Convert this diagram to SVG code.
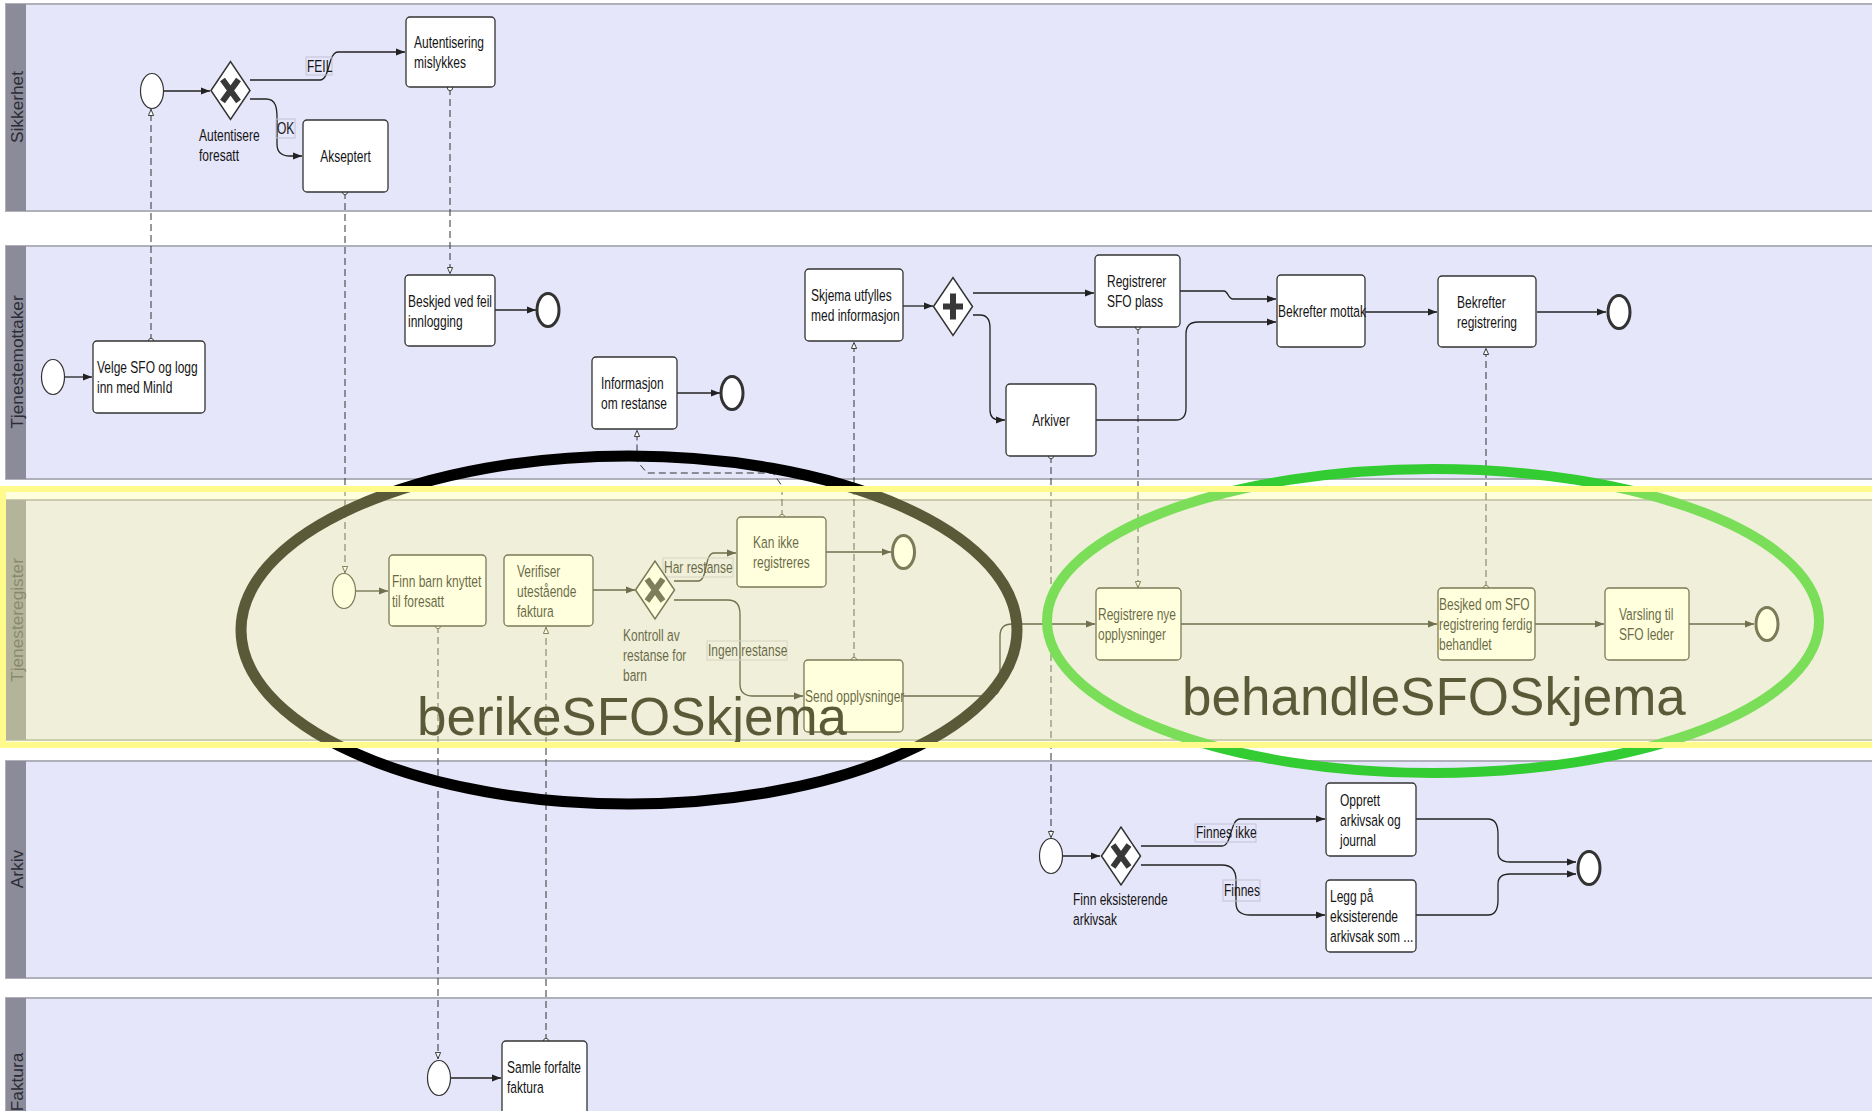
<svg xmlns="http://www.w3.org/2000/svg" width="1872" height="1111" viewBox="0 0 1872 1111">
<style>
.lane{fill:#e6e6fa;stroke:#b0b0ba;stroke-width:2}
.strip{fill:#8b8b99}
.ll{font-family:"Liberation Sans",Arial,sans-serif;font-size:16px;fill:#2c2c36;text-anchor:middle}
.box{fill:#fff;stroke:#333;stroke-width:1.3}
.t{font-family:"Liberation Sans",Arial,sans-serif;font-size:12px;fill:#151515}
.c{text-anchor:middle}
.ev{fill:#fff;stroke:#333;stroke-width:1.2}
.end{fill:#fff;stroke:#333;stroke-width:3}
.seq{fill:none;stroke:#222;stroke-width:1.3;marker-end:url(#ah)}
.msg{fill:none;stroke:#333;stroke-width:1;stroke-dasharray:7 4;marker-start:url(#dot);marker-end:url(#ma)}
.lbl{fill:none;stroke:#c2c2d2;stroke-width:1}
.gw{fill:#fff;stroke:#333;stroke-width:1.5}
.xm{fill:none;stroke:#383838;stroke-width:6}
.big{font-family:"Liberation Sans",Arial,sans-serif;font-size:53px;fill:#000}
</style>
<defs>
<marker id="ah" viewBox="0 0 10 8" refX="10" refY="4" markerWidth="9" markerHeight="8" markerUnits="userSpaceOnUse" orient="auto"><path d="M0,0 L10,4 L0,8 z" fill="#222"/></marker>
<marker id="ma" viewBox="0 0 8 7" refX="8" refY="3.5" markerWidth="7" markerHeight="7" markerUnits="userSpaceOnUse" orient="auto"><path d="M0.5,0.5 L7.5,3.5 L0.5,6.5 z" fill="#fff" stroke="#222" stroke-width="1"/></marker>
<marker id="dot" viewBox="0 0 8 8" refX="4" refY="4" markerWidth="7" markerHeight="7" markerUnits="userSpaceOnUse"><circle cx="4" cy="4" r="3" fill="#fff" stroke="#333" stroke-width="1"/></marker>
<g id="gwx"><polygon class="gw" points="-19.5,0 0,-29 19.5,0 0,29"/><path class="xm" d="M-8,-11 L8,11 M8,-11 L-8,11"/></g>
<g id="gwp"><polygon class="gw" points="-19.5,0 0,-29 19.5,0 0,29"/><path class="xm" d="M0,-13 V13 M-10,0 H10"/></g>
</defs>

<rect width="1872" height="1111" fill="#fff"/>

<!-- swimlanes -->
<g id="lanes">
  <g id="lane-sikkerhet"><rect class="lane" x="6" y="4" width="1872" height="207"/><rect class="strip" x="6" y="4" width="20" height="207"/>
    <text class="ll" transform="translate(23 107) rotate(-90) scale(1.08 1)">Sikkerhet</text></g>
  <g id="lane-tjenestemottaker"><rect class="lane" x="6" y="246" width="1872" height="233"/><rect class="strip" x="6" y="246" width="20" height="233"/>
    <text class="ll" transform="translate(23 362) rotate(-90) scale(1.08 1)">Tjenestemottaker</text></g>
  <g id="lane-tjenesteregister"><rect class="lane" x="6" y="500" width="1872" height="240"/><rect class="strip" x="6" y="500" width="20" height="240"/>
    <text class="ll" transform="translate(23 620) rotate(-90) scale(1.08 1)" style="fill:#4a4a52">Tjenesteregister</text></g>
  <g id="lane-arkiv"><rect class="lane" x="6" y="761" width="1872" height="217"/><rect class="strip" x="6" y="761" width="20" height="217"/>
    <text class="ll" transform="translate(23 869) rotate(-90) scale(1.08 1)">Arkiv</text></g>
  <g id="lane-faktura"><rect class="lane" x="6" y="998" width="1872" height="140"/><rect class="strip" x="6" y="998" width="20" height="140"/>
    <text class="ll" transform="translate(23 1082) rotate(-90) scale(1.08 1)">Faktura</text></g>
</g>

<!-- connectors: sequence flows and message flows -->
<g id="connectors">
  <path class="seq" d="M164,91 H210"/>
  <path class="seq" d="M250,80 H320 C330,80 328,52 338,52 H405"/>
  <path class="seq" d="M250,99 H266 C276,99 277,108 277,118 V144 C277,152 282,156 290,156 H302"/>
  <path class="seq" d="M65,377 H92"/>
  <path class="seq" d="M495,310 H536"/>
  <path class="seq" d="M677,393 H720"/>
  <path class="seq" d="M903,306 H933"/>
  <path class="seq" d="M973,293 H1094"/>
  <path class="seq" d="M973,315 H980 C987,315 990,320 990,328 V410 C990,417 994,420 1000,420 H1005"/>
  <path class="seq" d="M1180,291 H1224 C1228,291 1228,299 1233,299 H1276"/>
  <path class="seq" d="M1096,420 H1176 C1183,420 1186,416 1186,408 V334 C1186,326 1190,322 1198,322 H1276"/>
  <path class="seq" d="M1365,312 H1437"/>
  <path class="seq" d="M1537,312 H1606"/>
  <path class="seq" d="M356,591 H388"/>
  <path class="seq" d="M593,590 H635"/>
  <path class="seq" d="M674,581 H698 C708,581 704,553 714,553 H736"/>
  <path class="seq" d="M674,600 H728 C737,600 740,606 740,614 V684 C740,692 745,696 753,696 H803"/>
  <path class="seq" d="M826,552 H891"/>
  <path class="seq" d="M903,696 H990 C997,696 1000,692 1000,684 V636 C1000,628 1004,624 1012,624 H1095"/>
  <path class="seq" d="M1181,624 H1437"/>
  <path class="seq" d="M1535,624 H1604"/>
  <path class="seq" d="M1689,624 H1754"/>
  <path class="seq" d="M1063,856 H1100"/>
  <path class="seq" d="M1141,846 H1222 C1232,846 1230,819 1240,819 H1325"/>
  <path class="seq" d="M1141,865 H1222 C1231,865 1236,870 1236,880 V903 C1236,911 1241,915 1250,915 H1325"/>
  <path class="seq" d="M1416,819 H1488 C1496,819 1498,826 1498,834 V852 C1498,859 1502,862 1510,862 H1576"/>
  <path class="seq" d="M1416,915 H1488 C1496,915 1498,908 1498,900 V884 C1498,877 1502,874 1510,874 H1576"/>
  <path class="seq" d="M451,1078 H501"/>

  <path class="msg" d="M151,341 V109"/>
  <path class="msg" d="M345,192 V573"/>
  <path class="msg" d="M450,88 V274"/>
  <path class="msg" d="M782,517 V486 L773,473 H647 L637,461 V430"/>
  <path class="msg" d="M854,660 V342"/>
  <path class="msg" d="M1138,327 V588"/>
  <path class="msg" d="M1486,588 V348"/>
  <path class="msg" d="M438,626 V1059"/>
  <path class="msg" d="M546,1041 V627"/>
  <path class="msg" d="M1051,456 V838"/>

  <g id="flow-labels">
    <rect class="lbl" x="306" y="57" width="26" height="18"/><text class="t" transform="translate(307 72) scale(1 1.45)">FEIL</text>
    <rect class="lbl" x="276" y="119" width="19" height="19"/><text class="t" transform="translate(277 134) scale(1 1.45)">OK</text>
    <rect class="lbl" x="663" y="558" width="70" height="19"/><text class="t" transform="translate(664 573) scale(1 1.45)">Har restanse</text>
    <rect class="lbl" x="707" y="641" width="80" height="19"/><text class="t" transform="translate(708 656) scale(1 1.45)">Ingen restanse</text>
    <rect class="lbl" x="1195" y="824" width="61" height="18"/><text class="t" transform="translate(1196 838) scale(1 1.45)">Finnes ikke</text>
    <rect class="lbl" x="1223" y="880" width="37" height="21"/><text class="t" transform="translate(1224 896) scale(1 1.45)">Finnes</text>
  </g>
</g>

<!-- Sikkerhet -->
<g id="start-sikkerhet"><ellipse class="ev" cx="152" cy="91" rx="11.5" ry="17.5"/></g>
<g id="gw-autentisere"><use href="#gwx" x="230.5" y="90.5"/>
  <text class="t" transform="translate(199 141) scale(1 1.45)"><tspan x="0">Autentisere</tspan><tspan x="0" dy="13.8">foresatt</tspan></text></g>
<g id="task-autentisering-mislykkes"><rect class="box" x="406" y="17" width="89" height="70" rx="4"/>
  <text class="t" transform="translate(414 48) scale(1 1.45)"><tspan x="0">Autentisering</tspan><tspan x="0" dy="13.8">mislykkes</tspan></text></g>
<g id="task-akseptert"><rect class="box" x="303" y="120" width="85" height="72" rx="4"/>
  <text class="t c" transform="translate(345.5 162) scale(1 1.45)">Akseptert</text></g>

<!-- Tjenestemottaker -->
<g id="start-tjenestemottaker"><ellipse class="ev" cx="53" cy="377" rx="11.5" ry="17.5"/></g>
<g id="task-velge-sfo"><rect class="box" x="93" y="341" width="112" height="72" rx="4"/>
  <text class="t" transform="translate(97 373) scale(1 1.45)"><tspan x="0">Velge SFO og logg</tspan><tspan x="0" dy="13.8">inn med MinId</tspan></text></g>
<g id="task-beskjed-feil"><rect class="box" x="405" y="275" width="90" height="71" rx="4"/>
  <text class="t" transform="translate(408 307) scale(1 1.45)"><tspan x="0">Beskjed ved feil</tspan><tspan x="0" dy="13.8">innlogging</tspan></text></g>
<g id="end-beskjed"><ellipse class="end" cx="548" cy="310" rx="11" ry="16.5"/></g>
<g id="task-informasjon-restanse"><rect class="box" x="592" y="357" width="85" height="72" rx="4"/>
  <text class="t" transform="translate(601 389) scale(1 1.45)"><tspan x="0">Informasjon</tspan><tspan x="0" dy="13.8">om restanse</tspan></text></g>
<g id="end-informasjon"><ellipse class="end" cx="732" cy="393" rx="11" ry="16.5"/></g>
<g id="task-skjema-utfylles"><rect class="box" x="805" y="269" width="98" height="72" rx="4"/>
  <text class="t" transform="translate(811 301) scale(1 1.45)"><tspan x="0">Skjema utfylles</tspan><tspan x="0" dy="13.8">med informasjon</tspan></text></g>
<g id="gw-parallel"><use href="#gwp" x="953" y="306.5"/></g>
<g id="task-registrerer-sfo"><rect class="box" x="1095" y="255" width="85" height="72" rx="4"/>
  <text class="t" transform="translate(1107 287) scale(1 1.45)"><tspan x="0">Registrerer</tspan><tspan x="0" dy="13.8">SFO plass</tspan></text></g>
<g id="task-arkiver"><rect class="box" x="1006" y="384" width="90" height="72" rx="4"/>
  <text class="t c" transform="translate(1051 426) scale(1 1.45)">Arkiver</text></g>
<g id="task-bekrefter-mottak"><rect class="box" x="1277" y="275" width="88" height="72" rx="4"/>
  <text class="t" transform="translate(1278 317) scale(1 1.45)">Bekrefter mottak</text></g>
<g id="task-bekrefter-registrering"><rect class="box" x="1438" y="276" width="98" height="71" rx="4"/>
  <text class="t" transform="translate(1457 308) scale(1 1.45)"><tspan x="0">Bekrefter</tspan><tspan x="0" dy="13.8">registrering</tspan></text></g>
<g id="end-tjenestemottaker"><ellipse class="end" cx="1619" cy="312" rx="11" ry="16.5"/></g>

<!-- Tjenesteregister -->
<g id="start-tjenesteregister"><ellipse class="ev" cx="344" cy="591" rx="11.5" ry="17.5"/></g>
<g id="task-finn-barn"><rect class="box" x="389" y="555" width="97" height="71" rx="4"/>
  <text class="t" transform="translate(392 587) scale(1 1.45)"><tspan x="0">Finn barn knyttet</tspan><tspan x="0" dy="13.8">til foresatt</tspan></text></g>
<g id="task-verifiser"><rect class="box" x="504" y="555" width="89" height="71" rx="4"/>
  <text class="t" transform="translate(517 577) scale(1 1.45)"><tspan x="0">Verifiser</tspan><tspan x="0" dy="13.8">utestående</tspan><tspan x="0" dy="13.8">faktura</tspan></text></g>
<g id="gw-kontroll"><use href="#gwx" x="655" y="590"/>
  <text class="t" transform="translate(623 641) scale(1 1.45)"><tspan x="0">Kontroll av</tspan><tspan x="0" dy="13.8">restanse for</tspan><tspan x="0" dy="13.8">barn</tspan></text></g>
<g id="task-kan-ikke"><rect class="box" x="737" y="517" width="89" height="70" rx="4"/>
  <text class="t" transform="translate(753 548) scale(1 1.45)"><tspan x="0">Kan ikke</tspan><tspan x="0" dy="13.8">registreres</tspan></text></g>
<g id="end-kan-ikke"><ellipse class="end" cx="903.5" cy="552" rx="11" ry="16.5"/></g>
<g id="task-send"><rect class="box" x="804" y="660" width="99" height="72" rx="4"/>
  <text class="t" transform="translate(805 702) scale(1 1.45)">Send opplysninger</text></g>
<g id="task-registrere-nye"><rect class="box" x="1096" y="588" width="85" height="72" rx="4"/>
  <text class="t" transform="translate(1098 620) scale(1 1.45)"><tspan x="0">Registrere nye</tspan><tspan x="0" dy="13.8">opplysninger</tspan></text></g>
<g id="task-besjked"><rect class="box" x="1438" y="588" width="97" height="72" rx="4"/>
  <text class="t" transform="translate(1439 610) scale(1 1.45)"><tspan x="0">Besjked om SFO</tspan><tspan x="0" dy="13.8">registrering ferdig</tspan><tspan x="0" dy="13.8">behandlet</tspan></text></g>
<g id="task-varsling"><rect class="box" x="1605" y="588" width="84" height="72" rx="4"/>
  <text class="t" transform="translate(1619 620) scale(1 1.45)"><tspan x="0">Varsling til</tspan><tspan x="0" dy="13.8">SFO leder</tspan></text></g>
<g id="end-tjenesteregister"><ellipse class="end" cx="1767" cy="624" rx="11" ry="16.5"/></g>

<!-- Arkiv -->
<g id="start-arkiv"><ellipse class="ev" cx="1051" cy="856" rx="11.5" ry="17.5"/></g>
<g id="gw-finn-arkivsak"><use href="#gwx" x="1121" y="856"/>
  <text class="t" transform="translate(1073 905) scale(1 1.45)"><tspan x="0">Finn eksisterende</tspan><tspan x="0" dy="13.8">arkivsak</tspan></text></g>
<g id="task-opprett"><rect class="box" x="1326" y="783" width="90" height="73" rx="4"/>
  <text class="t" transform="translate(1340 806) scale(1 1.45)"><tspan x="0">Opprett</tspan><tspan x="0" dy="13.8">arkivsak og</tspan><tspan x="0" dy="13.8">journal</tspan></text></g>
<g id="task-legg-paa"><rect class="box" x="1326" y="880" width="90" height="72" rx="4"/>
  <text class="t" transform="translate(1330 902) scale(1 1.45)"><tspan x="0">Legg på</tspan><tspan x="0" dy="13.8">eksisterende</tspan><tspan x="0" dy="13.8">arkivsak som ...</tspan></text></g>
<g id="end-arkiv"><ellipse class="end" cx="1589" cy="868" rx="11" ry="16.5"/></g>

<!-- Faktura -->
<g id="start-faktura"><ellipse class="ev" cx="439" cy="1078" rx="11.5" ry="17.5"/></g>
<g id="task-samle"><rect class="box" x="502" y="1041" width="85" height="74" rx="4"/>
  <text class="t" transform="translate(507 1073) scale(1 1.45)"><tspan x="0">Samle forfalte</tspan><tspan x="0" dy="13.8">faktura</tspan></text></g>

<!-- service groupings -->
<g id="group-berike">
  <ellipse cx="629" cy="630" rx="388" ry="174" fill="none" stroke="#000" stroke-width="11"/>
  <text class="big" x="417" y="735">berikeSFOSkjema</text>
</g>
<g id="group-behandle">
  <ellipse cx="1433" cy="621" rx="386" ry="152" fill="none" stroke="#33cc33" stroke-width="10"/>
  <text class="big" x="1182" y="715">behandleSFOSkjema</text>
</g>

<!-- selection highlight over the Tjenesteregister lane -->
<rect id="lane-highlight" x="3" y="489" width="1880" height="256" fill="#ffff9f" fill-opacity="0.353" stroke="#fffa8c" stroke-width="6"/>
</svg>
